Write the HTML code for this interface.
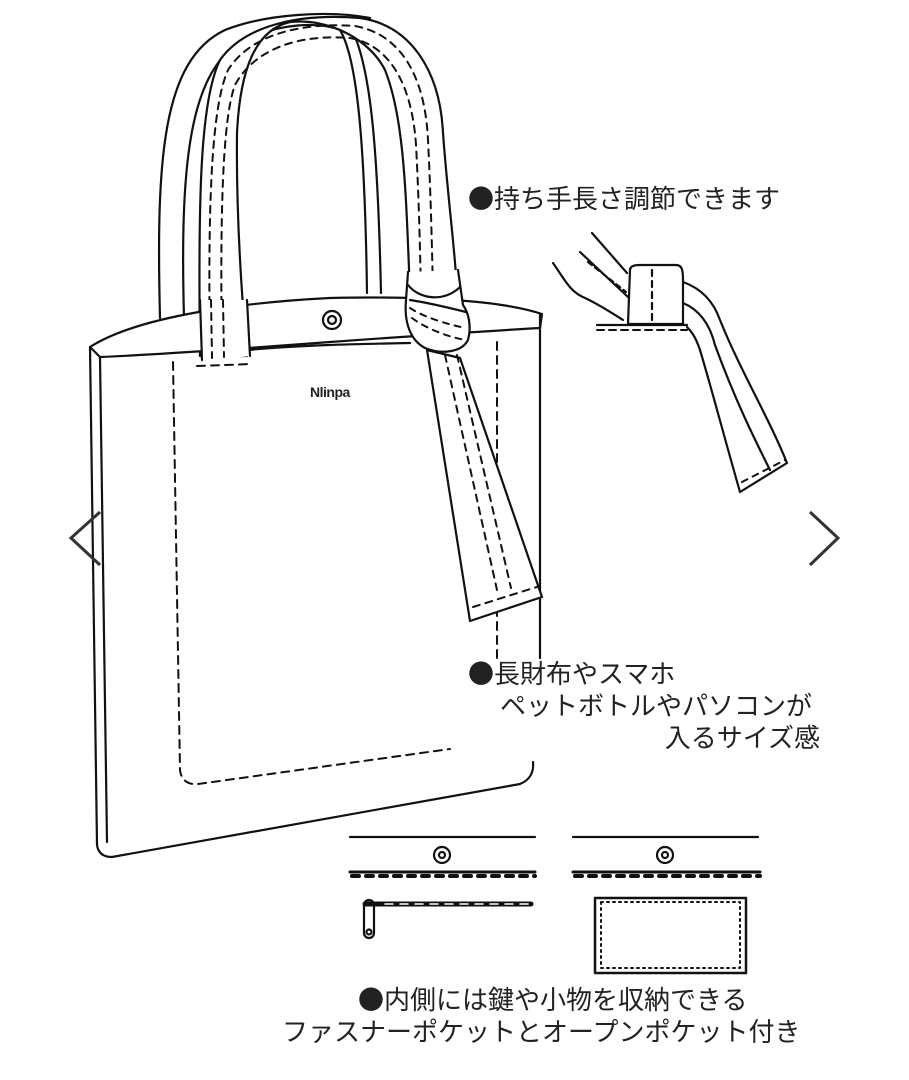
<!DOCTYPE html>
<html><head><meta charset="utf-8"><style>
html,body{margin:0;padding:0;background:#fff;}
svg{display:block;}
text{font-family:"Liberation Sans","Noto Sans CJK JP",sans-serif;fill:#222;}
.b{font-family:"Noto Sans CJK JP",sans-serif;}
</style></head><body>
<svg width="909" height="1080" viewBox="0 0 909 1080" xmlns="http://www.w3.org/2000/svg">
<rect width="909" height="1080" fill="#fff"/>
<g fill="none" stroke="#111" stroke-width="2.2" stroke-linecap="round" stroke-linejoin="round">
<!-- back handle -->
<path d="M160,318 C156,160 162,60 225,30 C265,14 330,10 370,18"/>
<path d="M184,318 C180,170 188,75 240,42 C280,22 320,22 340,30 C358,60 365,150 367,293"/>
<path d="M352,30 C372,70 378,160 381,293"/>
<!-- front handle -->
<path fill="#fff" d="M200,356 C198,200 200,100 220,60 C245,25 300,13 360,18 C410,25 440,70 443,133 C448,200 455,250 457,290 L410,293 C406,200 405,120 385,70 C370,40 330,18 290,22 C255,30 240,70 237,133 C236,220 242,300 247,356 Z"/>
<g stroke-dasharray="7,6" stroke-width="2">
<path d="M210,356 C208,220 210,110 228,70 C250,35 300,22 355,26 C400,34 425,75 428,140 C431,200 432,250 433,292"/>
<path d="M222,356 C220,220 222,120 235,85 C255,48 300,34 350,38 C390,45 412,85 416,145 C419,200 420,250 421,292"/>
</g>
<!-- bag rim -->
<path fill="#fff" d="M90,347 C140,315 250,302 330,298 C420,296 500,300 542,314 L540,328 C470,332 400,337 330,342 C250,348 150,355 100,357 Z"/>
<path d="M248,350 C300,345 360,344 410,343"/>
<!-- bag body -->
<path d="M90,347 L97,845 C98,852 102,857 112,857 L520,784 C530,780 534,772 533,762"/>
<path d="M100,357 L107,842"/>
<path d="M540,314 L540,658"/>
<path fill="#fff" d="M200,300 L247,300 L250,356 L202,362 Z" stroke="none"/>
<path d="M200,300 L202,360 M247,300 L250,356"/>
<path stroke-dasharray="7,6" stroke-width="2" d="M211,300 L212,358 M223,300 L224,357"/>
<!-- pocket dashed -->
<g stroke-dasharray="8,6" stroke-width="2">
<path d="M173,362 L180,770 C181,780 188,785 198,784 L450,749"/>
<path d="M197,366 L252,364"/>
<path d="M497,342 L497,660"/>
</g>
<circle cx="332" cy="320" r="9" fill="#fff"/>
<circle cx="332" cy="320" r="4"/>
<!-- strap tail -->
<path fill="#fff" d="M427,350 L470,621 L542,597 L460,358 Z"/>
<g stroke-dasharray="7,6" stroke-width="2">
<path d="M445,355 L497,590"/>
<path d="M457,355 L511,588"/>
<path d="M473,607 L540,586"/>
</g>
<!-- knot -->
<path fill="#fff" d="M408,272 L406,300 C404,322 410,340 425,348 C442,355 462,352 468,340 C472,325 468,312 463,305 L460,284 L458,270"/>
<path d="M408,285 C420,300 445,302 460,287"/>
<path d="M410,300 C430,303 450,308 466,312"/>
<g stroke-dasharray="6,6" stroke-width="2">
<path d="M410,308 C425,318 450,325 466,328"/>
<path d="M412,318 C428,330 452,338 466,340"/>
</g>
<!-- right detail -->
<path d="M592,233 L627,273"/>
<path d="M580,252 L628,297"/>
<path stroke-dasharray="5,4" d="M588,262 L626,292"/>
<path d="M553,263 C565,280 570,292 585,298 C600,305 615,315 623,320"/>
<path fill="#fff" d="M630,270 C630,266 635,265 640,265 L676,265 C682,265 683,270 683,280 L683,324 L628,324 Z"/>
<path stroke-dasharray="6,5" d="M652,270 L652,323"/>
<path d="M597,325 L687,325"/>
<path stroke-dasharray="7,5" stroke-width="2" d="M597,330 L687,330"/>
<path d="M683,282 C700,288 713,300 720,320 C740,370 770,420 787,463 L740,492 C725,440 712,390 700,350 C695,335 690,330 687,327"/>
<path d="M683,303 C700,310 710,325 715,345 C735,400 755,440 770,470"/>
<path stroke-dasharray="6,6" stroke-width="2" d="M742,482 L785,460"/>
<!-- bottom pockets -->
<path d="M350,837 L535,837 M573,837 L758,837"/>
<circle cx="442" cy="855" r="8"/><circle cx="442" cy="855" r="3"/>
<circle cx="665" cy="855" r="8"/><circle cx="665" cy="855" r="3"/>
<path stroke-width="3" d="M350,872 L535,872 M573,872 L760,872"/>
<path stroke-width="4" stroke-dasharray="7,7" d="M352,876 L535,876 M575,876 L760,876"/>
<path stroke-width="5" d="M365,904 L531,904"/>
<path stroke="#fff" stroke-width="1.5" stroke-dasharray="8,7" d="M385,904 L528,904"/>
<rect x="364" y="900" width="10" height="38" rx="5"/>
<circle cx="369" cy="932" r="2.5"/>
<rect x="595" y="898" width="151" height="75" stroke-width="2.5"/>
<rect x="601" y="902" width="139" height="66" stroke-width="2" stroke-dasharray="2,4"/>
</g>
<text x="310" y="397" font-size="14" font-weight="bold" letter-spacing="-0.5" style="font-family:'Liberation Sans',sans-serif">Nlinpa</text>
<polyline points="100,512 71,538 100,565" fill="none" stroke="#333" stroke-width="3"/>
<polyline points="810,512 838,538 810,565" fill="none" stroke="#333" stroke-width="3"/>
<g font-size="26">
<text x="468" y="208"><tspan class="b">●</tspan>持ち手長さ調節できます</text>
<text x="468" y="683"><tspan class="b">●</tspan>長財布やスマホ</text>
<text x="500" y="715">ペットボトルやパソコンが</text>
<text x="820" y="747" text-anchor="end">入るサイズ感</text>
<text x="358" y="1009"><tspan class="b">●</tspan>内側には鍵や小物を収納できる</text>
<text x="282" y="1041">ファスナーポケットとオープンポケット付き</text>
</g>
</svg>
</body></html>
